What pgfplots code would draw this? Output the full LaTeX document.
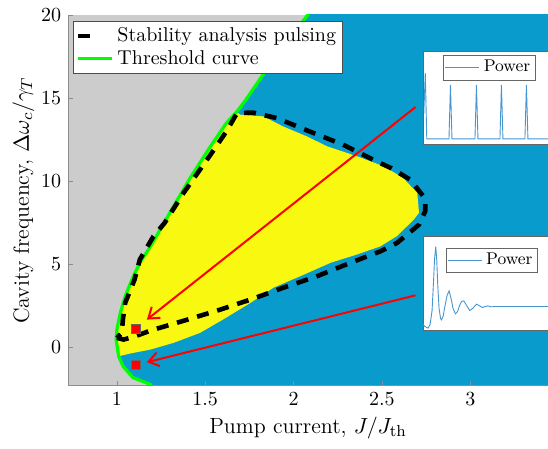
\documentclass[border=0pt]{standalone}
\usepackage{pgfplots}
\pgfplotsset{compat=1.18}
\usetikzlibrary{arrows.meta}

\definecolor{bgrey}{RGB}{204,204,204}
\definecolor{pblue}{RGB}{10,155,205}
\definecolor{pyellow}{RGB}{248,248,16}
\definecolor{mgreen}{RGB}{0,255,0}
\definecolor{lineblue}{RGB}{70,150,210}

\begin{document}
\begin{tikzpicture}
\begin{axis}[
  name=main,
  scale only axis,
  width=240pt, height=185.5pt,
  xmin=0.725, xmax=3.44,
  ymin=-2.3, ymax=20,
  xtick={1,1.5,2,2.5,3},
  ytick={0,5,10,15,20},
  axis x line*=bottom, axis y line*=left,
  axis line style={-, draw=black!45},
  tick align=inside, major tick length=2.5pt,
  tick style={black!45},
  axis on top,
  axis background/.style={fill=bgrey},
  every axis x label/.style={at={([yshift=-21pt]axis description cs:0.5,0)}, anchor=center},
  every axis y label/.style={at={([xshift=-22.5pt]axis description cs:0,0.5)}, rotate=90, anchor=center},
  xlabel={Pump current, $J/J_{\mathrm{th}}$},
  ylabel={Cavity frequency, $\Delta\omega_c/\gamma_T$},
  label style={font=\fontsize{11}{13}\selectfont},
  reverse legend,
  legend cell align=left,
  legend style={at={(0.01,0.984)}, anchor=north west, draw=black!70,
    inner sep=1pt, row sep=-1pt, fill=white},
]
% region right of the threshold (blue)
\addplot[fill=pblue, draw=none, forget plot] coordinates {
  (1.2,-2.6) (1.19,-2.22) (1.09,-1.8) (1.036,-1.14) (1.01,-0.52) (0.996,0.48)
  (1.0,1.08) (1.02,2.1) (1.047,3.08) (1.085,4.08) (1.13,5.1) (1.19,6.08)
  (1.245,7.09) (1.31,8.29) (1.415,10.2) (1.53,12.1) (1.62,13.5) (1.68,14.2)
  (1.73,14.9) (1.82,16.3) (1.95,18.2) (2.08,20) (2.1,20.4)
  (3.6,20.4) (3.6,-2.6)
};
% pulsing region (yellow)
\addplot[fill=pyellow, draw=none, forget plot] coordinates {
  (1.01,-0.52) (1.028,-0.48) (1.075,-0.36) (1.19,-0.12) (1.32,0.28) (1.47,0.88)
  (1.60,1.68) (1.755,2.68) (1.886,3.6) (2.04,4.3) (2.21,5.1) (2.36,5.6)
  (2.49,6.08) (2.585,6.7) (2.68,7.69) (2.71,8.1) (2.70,9.3) (2.62,10.2)
  (2.51,10.9) (2.36,11.5) (2.19,12.1) (2.075,12.7) (1.94,13.3) (1.83,13.9)
  (1.70,14.0) (1.68,14.15) (1.62,13.5) (1.53,12.1) (1.415,10.2) (1.31,8.29)
  (1.245,7.09) (1.19,6.08) (1.13,5.1) (1.085,4.08) (1.047,3.08) (1.02,2.1)
  (1.0,1.08) (0.996,0.48)
};
% threshold curve
\addplot[mgreen, line width=1.6pt] coordinates {
  (1.2,-2.4) (1.19,-2.22) (1.09,-1.8) (1.036,-1.14) (1.01,-0.52) (0.996,0.48)
  (1.0,1.08) (1.02,2.1) (1.047,3.08) (1.085,4.08) (1.13,5.1) (1.19,6.08)
  (1.245,7.09) (1.31,8.29) (1.415,10.2) (1.53,12.1) (1.62,13.5) (1.68,14.2)
  (1.73,14.9) (1.82,16.3) (1.95,18.2) (2.08,20) (2.1,20.4)
};
\addlegendentry{Threshold curve}
% stability analysis boundary
\addplot[black, line width=2.3pt, dash pattern=on 6pt off 4.5pt,
  legend image code/.code={\draw[black, line width=2.3pt] (0pt,0pt) -- (8.5pt,0pt);}]
  coordinates {
  (1.0,0.58) (1.038,0.48) (1.094,0.64) (1.19,1.02) (1.40,1.68) (1.585,2.28)
  (1.755,2.88) (1.94,3.59) (2.13,4.28) (2.32,5.09) (2.49,5.78) (2.585,6.29)
  (2.71,7.39) (2.745,8.2) (2.745,8.8) (2.735,9.09) (2.66,10.1) (2.55,10.8)
  (2.45,11.3) (2.28,12.2) (2.09,13.0) (1.905,13.8) (1.77,14.13) (1.68,14.1)
  (1.62,13.0) (1.53,11.6) (1.377,9.29) (1.27,7.49) (1.207,6.69) (1.13,5.29)
  (1.10,4.08) (1.047,2.68) (1.034,1.68) (1.028,0.88) (1.0,0.58)
};
\addlegendentry{Stability analysis pulsing}
% arrows and markers
\addplot[red, line width=1pt, -{Straight Barb[length=5pt,width=7pt]}, forget plot]
  coordinates {(2.69,14.46) (1.17,1.68)};
\addplot[red, line width=1pt, -{Straight Barb[length=5pt,width=7pt]}, forget plot]
  coordinates {(2.69,3.14) (1.17,-0.88)};
\addplot[only marks, mark=square*, mark size=2.25pt, mark options={fill=red, draw=black!60, line width=0.3pt}, forget plot]
  coordinates {(1.107,1.12) (1.107,-1.02)};
\end{axis}

% inset: pulsing
\begin{axis}[
  at={(main.south west)}, anchor=south west, xshift=177.85pt, yshift=121pt,
  scale only axis, width=70pt, height=46.5pt,
  xmin=0, xmax=140, ymin=0, ymax=93,
  ticks=none, axis line style={draw=black!60, line width=0.4pt},
  axis background/.style={fill=white},
  legend style={at={(0.14,0.957)}, anchor=north west, draw=black!60,
    font=\fontsize{8.5}{10}\selectfont, inner sep=0.5pt},
]
\addplot[lineblue, line width=0.45pt] coordinates {
  (0,30) (1.5,71) (3,5) (25.2,5) (26.7,59) (28.2,5) (51.2,5) (52.7,59) (54.2,5)
  (76.2,5) (77.7,59) (79.2,5) (101.2,5) (102.7,59) (104.2,5) (126.2,5) (127.7,59)
  (129.2,5) (140,5)
};
\addlegendentry{Power}
\end{axis}

% inset: damped relaxation oscillations
\begin{axis}[
  at={(main.south west)}, anchor=south west, xshift=177.5pt, yshift=27.65pt,
  scale only axis, width=70pt, height=47pt,
  xmin=0, xmax=140, ymin=0, ymax=94,
  ticks=none, axis line style={draw=black!60, line width=0.4pt},
  axis background/.style={fill=white},
  legend style={at={(0.162,0.88)}, anchor=north west, draw=black!60,
    font=\fontsize{8.5}{10}\selectfont, inner sep=0.5pt},
]
\addplot[lineblue, line width=0.45pt] coordinates {
  (0,6) (2,4) (5,2.4) (7,6) (9,20) (10.5,50) (11.5,72) (12.7,84) (13.7,70)
  (14.7,45) (16,22) (17.5,12) (18.4,10.7) (20,14) (22,25) (24,35) (26,39.7)
  (28,32) (30,22) (32.4,16.7) (34.5,19) (36.5,25) (38.5,29) (40.7,29.7) (43,26)
  (46.7,20) (49.5,22) (53.4,26.4) (56,25) (59.4,23) (62,24) (64.7,24.7)
  (68,23.7) (72,24) (80,24) (100,24) (140,24)
};
\addlegendentry{Power}
\end{axis}

\pgfresetboundingbox
\path[use as bounding box] ([xshift=-34.15pt,yshift=-31.5pt]main.south west)
  rectangle ([yshift=7.5pt]main.north east);
\end{tikzpicture}
\end{document}
